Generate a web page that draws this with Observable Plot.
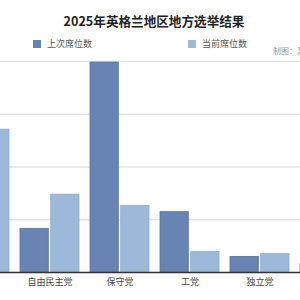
<!DOCTYPE html>
<html><head><meta charset="utf-8">
<script src="https://cdn.jsdelivr.net/npm/d3@7"></script>
<script src="https://cdn.jsdelivr.net/npm/@observablehq/plot@0.6"></script>
<style>
html,body{margin:0;padding:0;background:#fff;}
#wrap{position:relative;width:300px;height:300px;overflow:hidden;font-family:"Noto Sans CJK SC","Noto Sans",sans-serif;}
#title{position:absolute;left:0;top:13px;width:308px;text-align:center;font-size:12.6px;font-weight:bold;color:#222;line-height:16px;}
.leg{position:absolute;top:37px;font-size:9px;color:#555;display:flex;align-items:center;line-height:14px;}
.sw{width:8px;height:8px;margin-right:6px;}
#cap{position:absolute;left:273px;top:45px;font-size:8px;color:#999;white-space:nowrap;line-height:12px;}
#chart{position:absolute;left:-61px;top:56px;width:431px;height:244px;}
#chart svg{max-width:none !important;width:431px;height:244px;}
</style></head>
<body><div id="wrap">
<div id="title"></div>
<div class="leg" id="l1" style="left:33px"></div>
<div class="leg" id="l2" style="left:188px"></div>
<div id="cap"></div>
<div id="chart"></div>
</div>
<script>
const title = "2025年英格兰地区地方选举结果";
const caption = "制图：某某";
const parties = ["改革党","自由民主党","保守党","工党","独立党","绿党"];
const seriesNames = ["上次席位数","当前席位数"];
const prevSeats = [2, 207, 995, 286, 74, 43];
const currSeats = [677, 369, 316, 98, 87, 80];
const yTicks = [0, 250, 500, 750, 1000];
const colors = ["#6884b3", "#9cb9d9"];
const strokes = ["#56739f", "#8eabcd"];

const prevData = parties.map((p, i) => ({party: p, series: seriesNames[0], value: prevSeats[i]}));
const currData = parties.map((p, i) => ({party: p, series: seriesNames[1], value: currSeats[i]}));

document.getElementById("title").textContent = title;
document.getElementById("cap").textContent = caption;
[["l1",0],["l2",1]].forEach(([id,k]) => {
  const el = document.getElementById(id);
  el.innerHTML = `<div class="sw" style="background:${colors[k]}"></div><span>${seriesNames[k]}</span>`;
});

const bandW = 59, barW = 28.3, gap = bandW - barW;
const chart = Plot.plot({
  width: 431,
  height: 244,
  marginTop: 5,
  marginBottom: 28,
  marginLeft: 0,
  marginRight: 0,
  style: {fontFamily: '"Noto Sans CJK SC","Noto Sans",sans-serif', fontSize: "9px", color: "#444", background: "transparent", maxWidth: "none"},
  x: {domain: parties, paddingInner: 0.157, paddingOuter: 0.157, round: false, label: null},
  y: {domain: [0, 1000], axis: null},
  color: {domain: seriesNames, range: colors},
  marks: [
    Plot.ruleY(yTicks.filter(d => d > 0), {stroke: "#e2e2e2", strokeWidth: 1.5}),
    Plot.barY(prevData, {x: "party", y: "value", fill: "series", stroke: strokes[0], strokeWidth: 0.8, insetRight: gap}),
    Plot.barY(currData, {x: "party", y: "value", fill: "series", stroke: strokes[1], strokeWidth: 0.8, insetLeft: gap}),
    Plot.ruleY([0], {stroke: "#333", strokeWidth: 1.5}),
    Plot.axisX({anchor: "bottom", tickSize: 0, tickPadding: 6, fontSize: 9, label: null, color: "#444"})
  ]
});
document.getElementById("chart").appendChild(chart);
</script>
</body></html>
